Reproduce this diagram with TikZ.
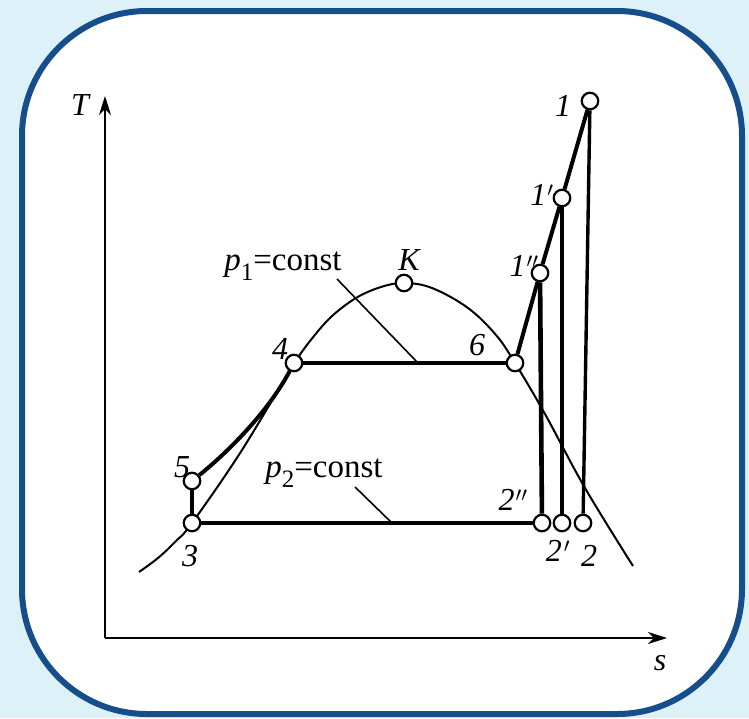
\documentclass[tikz,border=0pt]{standalone}
\usepackage{fontspec}
\setmainfont{Liberation Serif}
\usetikzlibrary{arrows.meta}
\definecolor{bgblue}{RGB}{221,241,248}
\definecolor{frameblue}{RGB}{22,78,140}
\begin{document}
\begin{tikzpicture}[x=1pt,y=-1pt,
  pt/.style={circle,draw=black,fill=white,line width=2.2pt,minimum size=16.5pt,inner sep=0pt},
  lbl/.style={inner sep=0pt,font=\fontsize{32}{34}\selectfont\itshape},
  ptxt/.style={inner sep=0pt,font=\fontsize{33}{35}\selectfont},
  thin/.style={line width=2pt},
  thick/.style={line width=4pt},
  vthick/.style={line width=4.6pt},
  axis/.style={line width=2.2pt,-{Stealth[length=19pt,width=12pt,inset=6pt]}},
  leader/.style={line width=1.6pt}]
\useasboundingbox (0,0) rectangle (749,718);
\fill[bgblue] (0,0) rectangle (749,718);
\draw[frameblue,line width=6pt,fill=white,rounded corners=125pt] (22,11) rectangle (742,714);
% coordinates
\coordinate (c1) at (590,101);
\coordinate (c1p) at (562,198);
\coordinate (c1pp) at (540,273);
\coordinate (c6) at (515,363);
\coordinate (cK) at (404,283);
\coordinate (c4) at (294,363);
\coordinate (c5) at (192,481);
\coordinate (c3) at (192,523);
\coordinate (c2pp) at (542,523);
\coordinate (c2p) at (562,523);
\coordinate (c2) at (583,523);
\coordinate (o) at (105,638);
\coordinate (ytip) at (105,96);
\coordinate (xtip) at (667,638);
% axes
\draw[axis] (o) -- (ytip);
\draw[axis] (o) -- (xtip);
% saturation curve
\draw[thin] plot[smooth,tension=0.6] coordinates {(139,572) (158,558) (176,541) (192,523) (242,450) (294,363)};
\draw[thin] plot[smooth,tension=0.6] coordinates {(294,363) (310,341) (331,317) (356,298) (381,287) (404,283) (432,288) (468,308) (496,335) (515,363) (545,414) (585,488) (633,566)};
% leader lines
\coordinate (l1a) at (337,279);
\coordinate (l1b) at (418,363);
\coordinate (l2a) at (355,487);
\coordinate (l2b) at (392,523);
\draw[leader] (l1a) -- (l1b);
\draw[leader] (l2a) -- (l2b);
% state points
\node[pt] (n1) at (c1) {};
\node[pt] (n1p) at (c1p) {};
\node[pt] (n1pp) at (c1pp) {};
\node[pt] (n6) at (c6) {};
\node[pt] (nK) at (cK) {};
\node[pt] (n4) at (c4) {};
\node[pt] (n5) at (c5) {};
\node[pt] (n3) at (c3) {};
\node[pt] (n2pp) at (c2pp) {};
\node[pt] (n2p) at (c2p) {};
\node[pt] (n2) at (c2) {};
% process lines
\draw[thick] (n1) -- (n1p);
\draw[thick] (n1p) -- (n1pp);
\draw[thick] (n1pp) -- (n6);
\draw[thick] (n6) -- (n4);
\draw[thick] (n4) .. controls (268,412) and (228,452) .. (n5);
\draw[thick] (n5) -- (n3);
\draw[thick] (n3) -- (n2pp);
\draw[line width=3.4pt] (n1) -- (n2);
\draw[vthick] (n1p) -- (n2p);
\draw[vthick] (n1pp) -- (n2pp);
% labels
\node[lbl] (tT) at (80,105) {T};
\node[lbl] (ts) at (660,663) {s};
\node[lbl] (tK) at (409,260) {K};
\node[lbl] (t1) at (563,106) {1};
\node[lbl] (t1p) at (542,195) {1\kern1pt$'$};
\node[lbl] (t1pp) at (524,266) {1\kern1pt$''$};
\node[lbl] (t6) at (477,345) {6};
\node[lbl] (t4) at (280,349) {4};
\node[lbl] (t5) at (182,467) {5};
\node[lbl] (t3) at (190,556) {3};
\node[lbl] (t2pp) at (513,500) {2\kern1pt$''$};
\node[lbl] (t2p) at (558,551) {2\kern2pt$'$};
\node[lbl] (t2) at (589,556) {2};
\node[ptxt] (tp1) at (283,266) {\textit{p}\raisebox{-0.3em}{\fontsize{25}{26}\selectfont 1}=const};
\node[ptxt] (tp2) at (324,473) {\textit{p}\raisebox{-0.3em}{\fontsize{25}{26}\selectfont 2}=const};
\end{tikzpicture}
\end{document}
